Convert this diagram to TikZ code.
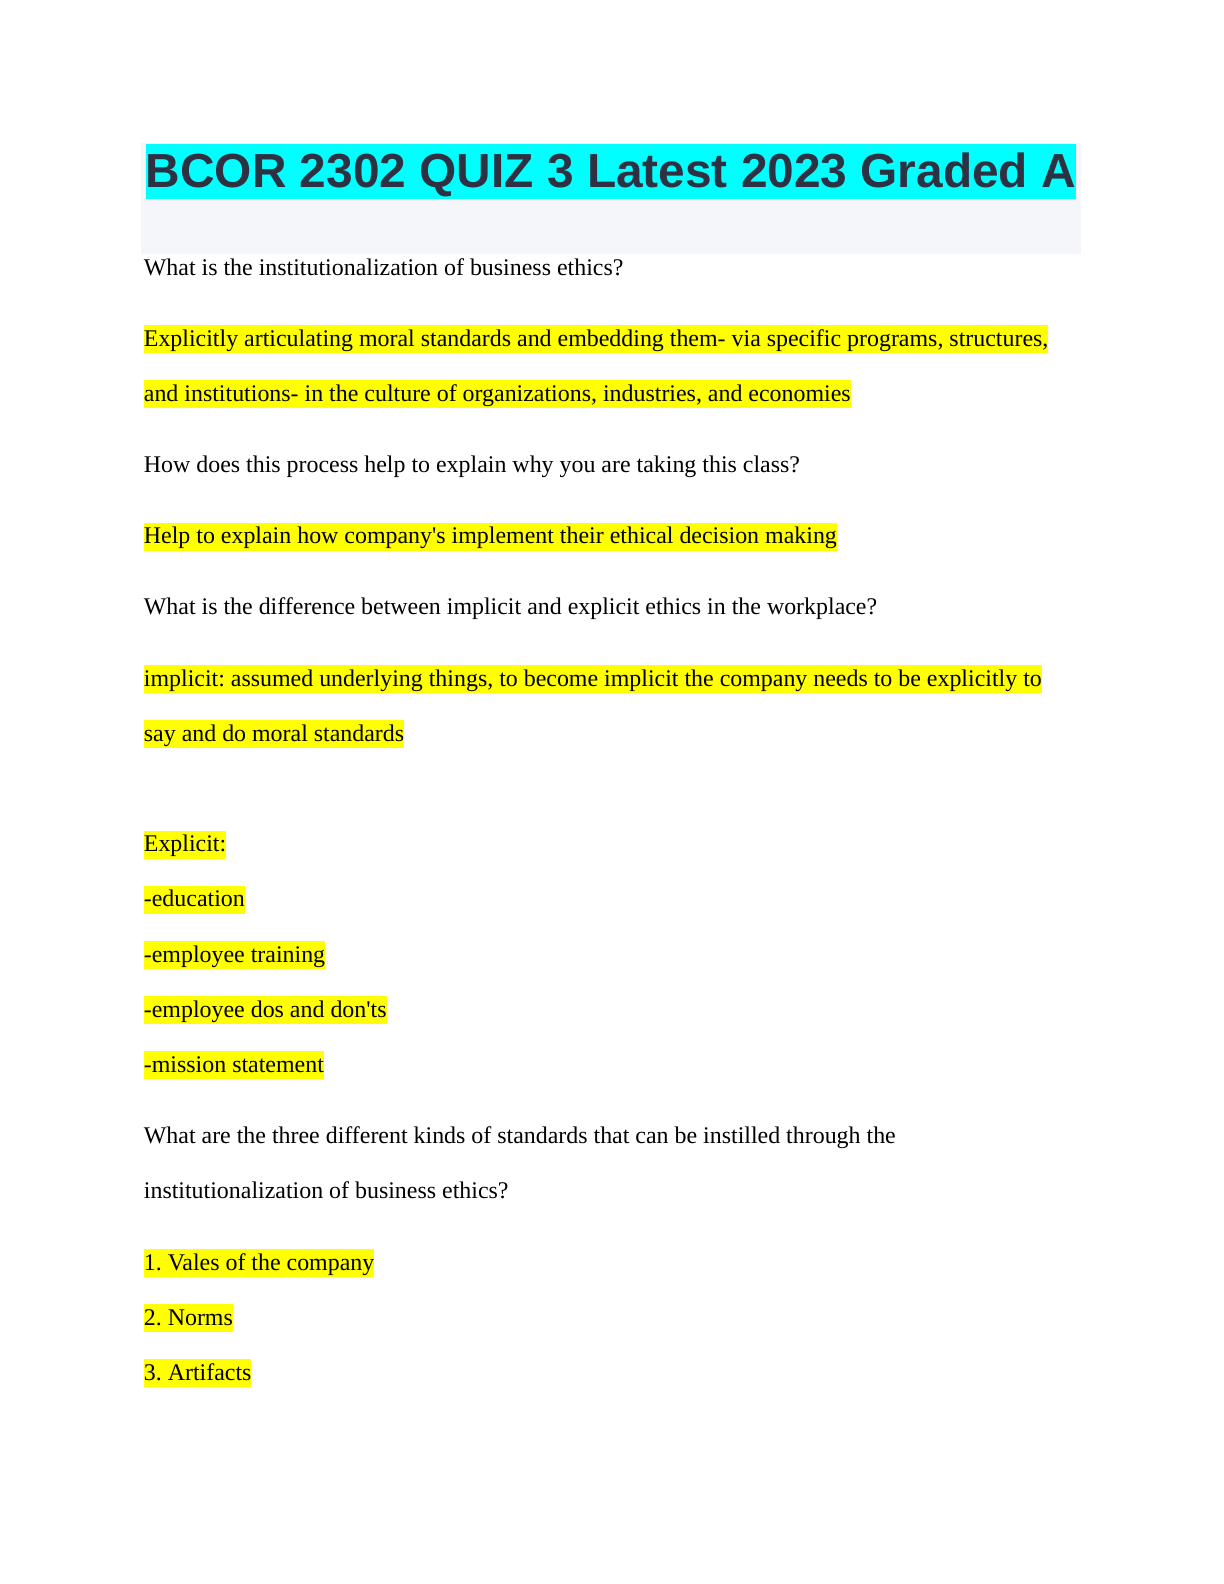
\documentclass[tikz,border=0pt]{standalone}
\usepackage{fontspec}
\setmainfont{Liberation Serif}
\newfontfamily\titlefont{Liberation Sans}
\definecolor{pagegrey}{RGB}{245,246,250}
\definecolor{titleink}{RGB}{45,49,66}
\definecolor{mark}{RGB}{255,255,0}
\definecolor{titlemark}{RGB}{0,255,255}
\tikzset{
  qline/.style={anchor=base west, inner sep=0pt, font=\fontsize{12}{14}\selectfont},
  aline/.style={qline, fill=mark, text height=10.5bp, text depth=3.5bp},
}
\frenchspacing
\begin{document}
\begin{tikzpicture}[x=0.5bp,y=-0.5bp]
  \useasboundingbox (0,0) rectangle (1224,1584);
  % title band
  \fill[pagegrey] (140.5,143) rectangle (1081,254);
  \node[anchor=base west, inner sep=0pt, fill=titlemark, text=titleink,
        text height=21.5bp, text depth=6bp,
        font=\titlefont\bfseries\fontsize{24}{26}\selectfont] (title) at (145.5,187)
        {BCOR 2302 QUIZ 3 Latest 2023 Graded A};
  % first question
  \node[qline] (q1) at (143.5,275.5) {What is the institutionalization of business ethics?};
  \node[aline] (a1a) at (143.5,346) {Explicitly articulating moral standards and embedding them- via specific programs, structures,};
  \node[aline] (a1b) at (143.5,401.2) {and institutions- in the culture of organizations, industries, and economies};
  % second question
  \node[qline] (q2) at (143.5,472.4) {How does this process help to explain why you are taking this class?};
  \node[aline] (a2) at (143.5,543.6) {Help to explain how company\textquotesingle s implement their ethical decision making};
  % third question
  \node[qline] (q3) at (143.5,614.8) {What is the difference between implicit and explicit ethics in the workplace?};
  \node[aline] (a3a) at (143.5,686) {implicit: assumed underlying things, to become implicit the company needs to be explicitly to};
  \node[aline] (a3b) at (143.5,741.2) {say and do moral standards};
  % explicit list
  \node[aline] (ex) at (143.5,851.6) {Explicit:};
  \node[aline] (ex1) at (143.5,906.8) {-education};
  \node[aline] (ex2) at (143.5,962) {-employee training};
  \node[aline] (ex3) at (143.5,1017.2) {-employee dos and don\textquotesingle ts};
  \node[aline] (ex4) at (143.5,1072.4) {-mission statement};
  % fourth question
  \node[qline] (q4a) at (143.5,1143.6) {What are the three different kinds of standards that can be instilled through the};
  \node[qline] (q4b) at (143.5,1198.8) {institutionalization of business ethics?};
  \node[aline] (a4a) at (143.5,1270) {1. Vales of the company};
  \node[aline] (a4b) at (143.5,1325.2) {2. Norms};
  \node[aline] (a4c) at (143.5,1380.4) {3. Artifacts};
\end{tikzpicture}
\end{document}
